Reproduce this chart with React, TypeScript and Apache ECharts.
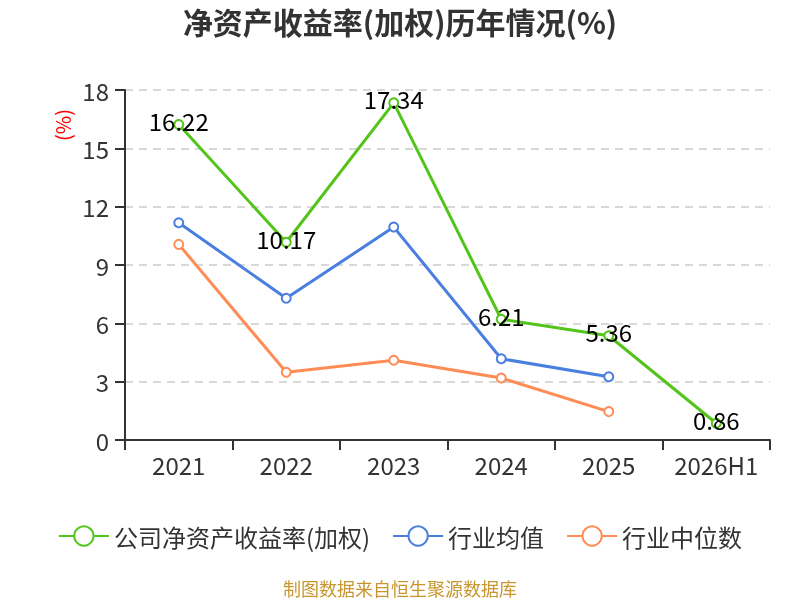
import React, { useEffect, useRef } from "react";
import * as echarts from "echarts";

const categories = ["2021", "2022", "2023", "2024", "2025", "2026H1"];
const companyRoe = [16.22, 10.17, 17.34, 6.21, 5.36, 0.86];
const industryAvg = [11.17, 7.29, 10.95, 4.18, 3.25, null];
const industryMedian = [10.06, 3.48, 4.1, 3.19, 1.46, null];
const yTicks = [0, 3, 6, 9, 12, 15, 18];

const FONT = "'Noto Sans CJK SC', 'Noto Sans', sans-serif";

export default function App() {
  const ref = useRef<HTMLDivElement>(null);
  useEffect(() => {
    const chart = echarts.init(ref.current!, undefined, { renderer: "svg" });
    const mk = (name: string, data: (number | null)[], color: string, label: boolean) => ({
      name,
      type: "line",
      data,
      symbol: "emptyCircle",
      symbolSize: 9,
      lineStyle: { width: 3, color },
      itemStyle: { color, borderWidth: 2 },
      label: label
        ? {
            show: true,
            position: "inside",
            offset: [0, -4],
            color: "#000",
            fontSize: 24,
            fontFamily: FONT,
          }
        : { show: false },
    });
    chart.setOption({
      animation: false,
      textStyle: { fontFamily: FONT },
      title: {
        text: "净资产收益率(加权)历年情况(%)",
        left: "center",
        top: 1,
        textStyle: { fontSize: 30, fontWeight: "bold", color: "#333", fontFamily: FONT },
      },
      grid: { left: 125, right: 30, top: 90, bottom: 160 },
      legend: {
        top: 519,
        left: "center",
        itemWidth: 50,
        itemHeight: 24,
        itemGap: 22,
        textStyle: { fontSize: 24, color: "#333", fontFamily: FONT },
        data: ["公司净资产收益率(加权)", "行业均值", "行业中位数"],
      },
      xAxis: {
        type: "category",
        data: categories,
        axisLine: { lineStyle: { color: "#333", width: 2 } },
        axisTick: { show: true, length: 10, lineStyle: { color: "#333", width: 2 } },
        axisLabel: { interval: 0, fontSize: 24, color: "#333", margin: 12, fontFamily: FONT },
      },
      yAxis: {
        type: "value",
        min: yTicks[0],
        max: yTicks[yTicks.length - 1],
        interval: 3,
        axisLine: { show: true, lineStyle: { color: "#333", width: 2 } },
        axisTick: { show: true, length: 10, lineStyle: { color: "#333", width: 2 } },
        axisLabel: { fontSize: 24, color: "#333", margin: 16, fontFamily: FONT },
        splitLine: { lineStyle: { type: [8, 6], color: "#cccccc", width: 1.5 } },
      },
      graphic: [
        {
          type: "text",
          x: 62,
          y: 125,
          rotation: Math.PI / 2,
          style: {
            text: "(%)",
            fill: "#ff0000",
            fontSize: 20,
            fontFamily: FONT,
            align: "center",
            verticalAlign: "middle",
          },
        },
        {
          type: "text",
          x: 400,
          y: 588,
          style: {
            text: "制图数据来自恒生聚源数据库",
            fill: "#c8962e",
            fontSize: 18,
            fontFamily: FONT,
            align: "center",
            verticalAlign: "middle",
          },
        },
      ],
      series: [
        mk("公司净资产收益率(加权)", companyRoe, "#52c41a", true),
        mk("行业均值", industryAvg, "#4a7ee0", false),
        mk("行业中位数", industryMedian, "#ff8c55", false),
      ],
    });
    return () => chart.dispose();
  }, []);
  return (
    <div
      ref={ref}
      style={{ position: "fixed", left: 0, top: 0, width: 800, height: 600 }}
    />
  );
}
